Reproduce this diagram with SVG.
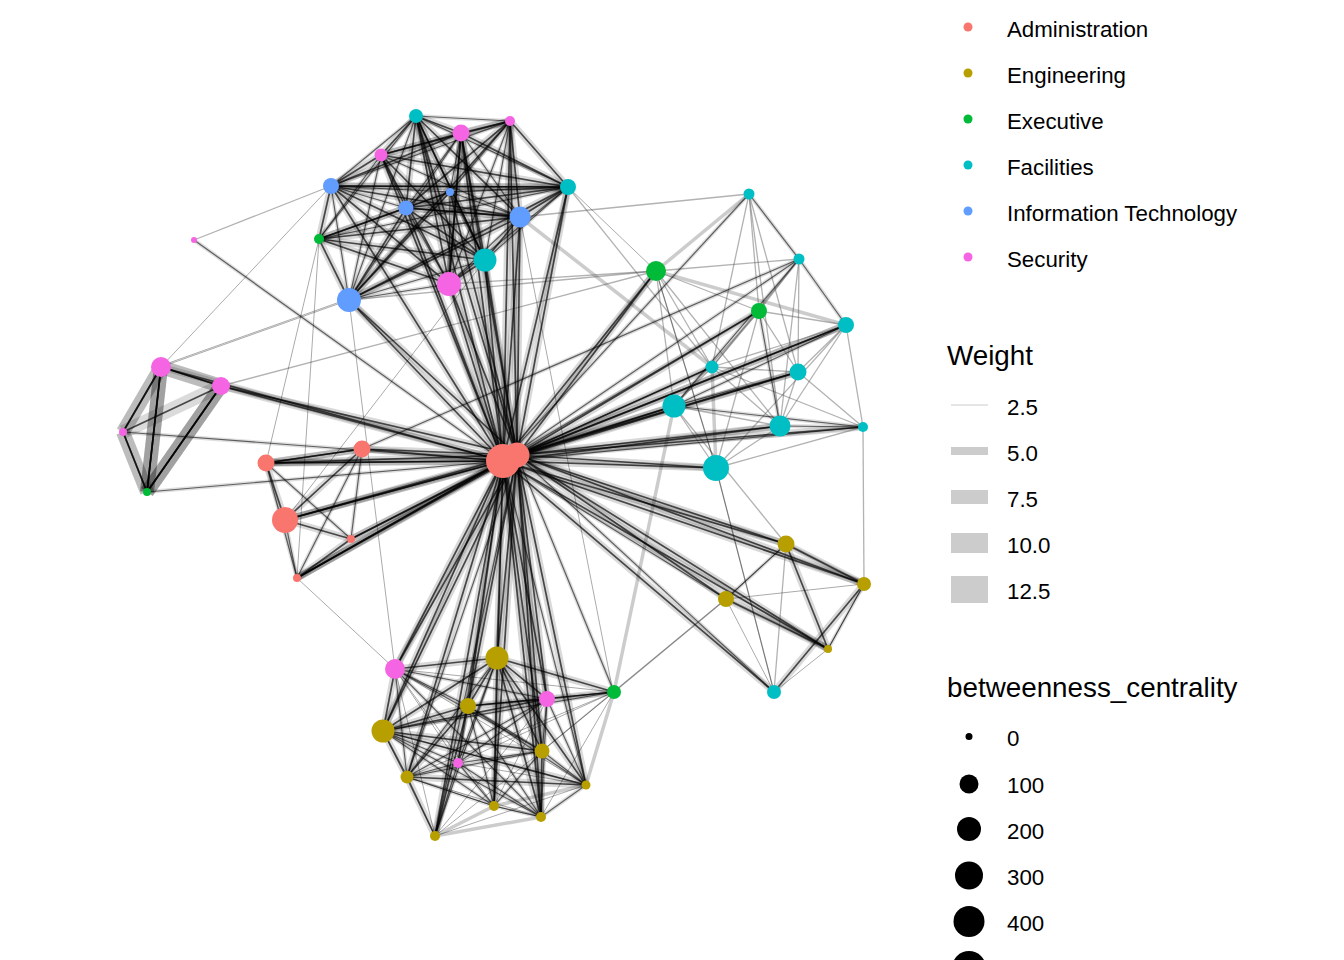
<svg xmlns="http://www.w3.org/2000/svg" xmlns:xlink="http://www.w3.org/1999/xlink" width="1344" height="960" viewBox="0 0 1344 960">
<style>
.hx{stroke:#000;stroke-opacity:.14;stroke-width:14;fill:none}
.hh{stroke:#000;stroke-opacity:.15;stroke-width:7;fill:none}
.hm{stroke:#000;stroke-opacity:.13;stroke-width:4;fill:none}
.ch{stroke:#000;stroke-opacity:.68;stroke-width:1.7;fill:none}
.cm{stroke:#000;stroke-opacity:.58;stroke-width:1.2;fill:none}
.cl{stroke:#000;stroke-opacity:.42;stroke-width:.8;fill:none}
.cg{stroke:#555;stroke-opacity:.45;stroke-width:1.3;fill:none}
.cw{stroke:#aaa;stroke-opacity:.6;stroke-width:3.5;fill:none}
.ad{fill:#F8766D}.en{fill:#B79F00}.ex{fill:#00BA38}.fa{fill:#00BFC4}.it{fill:#619CFF}.se{fill:#F564E3}
.lt{font-family:"Liberation Sans",Arial,sans-serif;font-size:22.3px;fill:#000}
.tt{font-family:"Liberation Sans",Arial,sans-serif;font-size:27.8px;fill:#000}
.key{fill:#cccccc}
</style>
<rect width="1344" height="960" fill="#fff"/>
<g id="connectors">
<g class="cw" id="EW">
<path d="M712 367L716 468"/><path d="M656 271L846 325"/><path d="M749 194L656 271"/><path d="M614 692L586 785"/><path d="M586 785L494 806"/><path d="M541 817L435 836"/><path d="M494 806L435 836"/><path d="M520 217L712 367"/><path d="M786 544L864 584"/><path d="M726 599L828 649"/><path d="M614 692L674 406"/>
</g>
<use xlink:href="#EX" class="hx"/>
<use xlink:href="#EH" class="hh"/>
<use xlink:href="#EM" class="hm"/>
<g class="cg" id="EG">
<path d="M221 386L656 271"/><path d="M349 300L656 271"/><path d="M449 284L656 271"/><path d="M520 217L749 194"/><path d="M568 187L712 367"/><path d="M614 692L726 599"/><path d="M716 468L774 692"/><path d="M674 406L786 544"/><path d="M863 427L864 584"/><path d="M786 544L774 692"/><path d="M542 751L726 599"/><path d="M194 240L331 186"/>
<path d="M749 194L759 311"/><path d="M749 194L712 367"/><path d="M749 194L798 372"/><path d="M749 194L780 426"/><path d="M799 259L656 271"/><path d="M799 259L759 311"/><path d="M799 259L712 367"/><path d="M799 259L780 426"/><path d="M799 259L798 372"/><path d="M656 271L712 367"/><path d="M656 271L674 406"/><path d="M656 271L780 426"/><path d="M656 271L716 468"/><path d="M759 311L712 367"/><path d="M759 311L798 372"/><path d="M759 311L674 406"/><path d="M759 311L716 468"/><path d="M759 311L846 325"/><path d="M846 325L712 367"/><path d="M846 325L798 372"/><path d="M846 325L780 426"/><path d="M846 325L863 427"/><path d="M846 325L716 468"/><path d="M712 367L798 372"/><path d="M712 367L780 426"/><path d="M712 367L674 406"/><path d="M798 372L780 426"/><path d="M798 372L863 427"/><path d="M674 406L780 426"/><path d="M780 426L716 468"/><path d="M716 468L863 427"/><path d="M674 406L716 468"/><path d="M656 271L759 311"/><path d="M712 367L863 427"/>
</g>
<g class="cl" id="EL">
<path d="M161 367L349 300"/><path d="M163 365L351 298"/><path d="M319 239L266 463"/><path d="M319 239L297 578"/><path d="M349 300L395 669"/><path d="M485 260L285 520"/><path d="M297 578L395 669"/><path d="M726 599L864 584"/><path d="M864 584L828 649"/><path d="M828 649L774 692"/><path d="M726 599L774 692"/><path d="M716 468L774 692"/><path d="M786 544L726 599"/><path d="M613 692L520 217"/>
<path d="M395 669L586 785"/><path d="M395 669L494 806"/><path d="M395 669L458 763"/><path d="M395 669L435 836"/><path d="M395 669L614 692"/><path d="M547 699L494 806"/><path d="M547 699L435 836"/><path d="M614 692L542 751"/><path d="M614 692L458 763"/><path d="M614 692L407 777"/><path d="M614 692L541 817"/><path d="M542 751L435 836"/><path d="M586 785L435 836"/><path d="M494 806L541 817"/><path d="M383 731L435 836"/><path d="M407 777L541 817"/><path d="M407 777L494 806"/><path d="M458 763L586 785"/><path d="M468 706L614 692"/><path d="M383 731L586 785"/>
<path d="M331 186L161 367"/><path d="M568 187L656 271"/><path d="M656 271L716 468"/>
</g>
<g class="ch"><g id="EX">
<path d="M161 367L221 386"/><path d="M161 367L221 386"/><path d="M161 367L123 432"/><path d="M161 367L147 492"/><path d="M161 367L147 492"/><path d="M161 367L147 492"/><path d="M221 386L123 432"/><path d="M221 386L147 492"/><path d="M221 386L147 492"/><path d="M221 386L147 492"/><path d="M123 432L147 492"/><path d="M123 432L147 492"/><path d="M161 367L123 432"/>
</g></g>
<g class="ch"><g id="EH">
<path d="M503 461L416 116"/><path d="M517 455L416 116"/><path d="M503 461L461 133"/><path d="M517 455L461 133"/><path d="M503 461L510 121"/><path d="M517 455L510 121"/><path d="M503 461L568 187"/><path d="M517 455L568 187"/><path d="M503 461L520 217"/><path d="M517 455L520 217"/><path d="M503 461L485 260"/><path d="M517 455L485 260"/><path d="M503 461L449 284"/><path d="M517 455L449 284"/><path d="M503 461L349 300"/><path d="M517 455L349 300"/><path d="M503 461L406 208"/><path d="M503 461L381 155"/><path d="M517 455L450 192"/><path d="M503 461L331 186"/>
<path d="M503 461L161 367"/><path d="M503 461L221 386"/><path d="M517 455L221 386"/><path d="M503 461L362 449"/><path d="M517 455L362 449"/><path d="M503 461L266 463"/><path d="M517 455L266 463"/><path d="M503 461L266 463"/><path d="M503 461L285 520"/><path d="M517 455L285 520"/><path d="M503 461L285 520"/><path d="M503 461L351 539"/><path d="M517 455L351 539"/><path d="M503 461L297 578"/><path d="M517 455L297 578"/><path d="M503 461L297 578"/>
<path d="M503 461L395 669"/><path d="M517 455L395 669"/><path d="M503 461L497 658"/><path d="M517 455L497 658"/><path d="M503 461L468 706"/><path d="M517 455L468 706"/><path d="M503 461L547 699"/><path d="M517 455L547 699"/><path d="M503 461L383 731"/><path d="M517 455L383 731"/><path d="M503 461L542 751"/><path d="M517 455L542 751"/><path d="M503 461L407 777"/><path d="M517 455L494 806"/><path d="M503 461L541 817"/><path d="M517 455L541 817"/><path d="M503 461L435 836"/><path d="M517 455L586 785"/>
<path d="M503 461L656 271"/><path d="M517 455L656 271"/><path d="M517 455L759 311"/><path d="M503 461L846 325"/><path d="M517 455L846 325"/><path d="M517 455L712 367"/><path d="M503 461L798 372"/><path d="M517 455L798 372"/><path d="M503 461L674 406"/><path d="M517 455L674 406"/><path d="M503 461L780 426"/><path d="M517 455L780 426"/><path d="M517 455L863 427"/><path d="M503 461L716 468"/><path d="M517 455L716 468"/>
<path d="M503 461L786 544"/><path d="M517 455L786 544"/><path d="M503 461L864 584"/><path d="M517 455L864 584"/><path d="M503 461L828 649"/><path d="M517 455L828 649"/><path d="M517 455L726 599"/><path d="M503 461L774 692"/>
<path d="M416 116L461 133"/><path d="M416 116L406 208"/><path d="M416 116L449 284"/><path d="M416 116L485 260"/><path d="M416 116L520 217"/><path d="M416 116L381 155"/><path d="M461 133L381 155"/><path d="M461 133L568 187"/><path d="M461 133L510 121"/><path d="M461 133L449 284"/><path d="M461 133L485 260"/><path d="M461 133L331 186"/><path d="M510 121L381 155"/><path d="M510 121L568 187"/><path d="M510 121L349 300"/><path d="M510 121L406 208"/><path d="M510 121L520 217"/><path d="M381 155L568 187"/><path d="M381 155L449 284"/><path d="M381 155L485 260"/><path d="M381 155L331 186"/><path d="M331 186L568 187"/><path d="M331 186L520 217"/><path d="M331 186L319 239"/><path d="M331 186L449 284"/><path d="M406 208L568 187"/><path d="M406 208L520 217"/><path d="M406 208L349 300"/><path d="M406 208L319 239"/><path d="M406 208L485 260"/><path d="M450 192L349 300"/><path d="M450 192L568 187"/><path d="M450 192L319 239"/><path d="M568 187L349 300"/><path d="M568 187L520 217"/><path d="M520 217L319 239"/><path d="M520 217L349 300"/><path d="M520 217L485 260"/><path d="M485 260L449 284"/><path d="M485 260L319 239"/><path d="M449 284L319 239"/><path d="M349 300L319 239"/><path d="M331 186L485 260"/><path d="M331 186L568 187"/><path d="M406 208L520 217"/><path d="M416 116L485 260"/><path d="M461 133L449 284"/>
<path d="M266 463L362 449"/><path d="M266 463L362 449"/><path d="M285 520L351 539"/><path d="M297 578L351 539"/><path d="M285 520L362 449"/><path d="M266 463L285 520"/>
<path d="M786 544L864 584"/><path d="M786 544L828 649"/><path d="M726 599L828 649"/><path d="M864 584L774 692"/>
<path d="M395 669L497 658"/><path d="M395 669L383 731"/><path d="M497 658L468 706"/><path d="M497 658L547 699"/><path d="M497 658L614 692"/><path d="M497 658L383 731"/><path d="M497 658L542 751"/><path d="M497 658L586 785"/><path d="M497 658L494 806"/><path d="M497 658L541 817"/><path d="M468 706L547 699"/><path d="M468 706L383 731"/><path d="M468 706L407 777"/><path d="M468 706L435 836"/><path d="M547 699L614 692"/><path d="M547 699L383 731"/><path d="M383 731L542 751"/><path d="M383 731L407 777"/><path d="M383 731L586 785"/><path d="M542 751L541 817"/><path d="M407 777L586 785"/><path d="M407 777L435 836"/>
</g></g>
<g class="cm"><g id="EM">
<path d="M416 116L510 121"/><path d="M416 116L331 186"/><path d="M416 116L568 187"/><path d="M416 116L349 300"/><path d="M461 133L406 208"/><path d="M461 133L520 217"/><path d="M461 133L450 192"/><path d="M461 133L349 300"/><path d="M510 121L331 186"/><path d="M510 121L449 284"/><path d="M510 121L485 260"/><path d="M510 121L450 192"/><path d="M381 155L406 208"/><path d="M381 155L520 217"/><path d="M381 155L349 300"/><path d="M381 155L319 239"/><path d="M331 186L406 208"/><path d="M331 186L349 300"/><path d="M331 186L450 192"/><path d="M406 208L450 192"/><path d="M406 208L449 284"/><path d="M450 192L485 260"/><path d="M450 192L520 217"/><path d="M450 192L449 284"/><path d="M568 187L485 260"/><path d="M568 187L449 284"/><path d="M568 187L319 239"/><path d="M520 217L449 284"/><path d="M485 260L349 300"/><path d="M449 284L349 300"/><path d="M319 239L416 116"/><path d="M194 240L503 461"/>
<path d="M123 432L503 461"/><path d="M147 492L503 461"/><path d="M362 449L351 539"/><path d="M362 449L297 578"/><path d="M266 463L351 539"/><path d="M285 520L297 578"/><path d="M266 463L297 578"/>
<path d="M503 461L458 763"/><path d="M517 455L407 777"/><path d="M503 461L494 806"/><path d="M517 455L435 836"/><path d="M517 455L614 692"/><path d="M503 461L586 785"/>
<path d="M503 461L799 259"/><path d="M503 461L759 311"/><path d="M503 461L712 367"/><path d="M503 461L863 427"/><path d="M503 461L726 599"/><path d="M517 455L774 692"/><path d="M503 461L749 194"/><path d="M362 449L799 259"/>
<path d="M726 599L786 544"/><path d="M864 584L828 649"/>
<path d="M749 194L799 259"/><path d="M799 259L846 325"/><path d="M799 259L674 406"/><path d="M759 311L780 426"/><path d="M846 325L674 406"/><path d="M798 372L674 406"/><path d="M674 406L863 427"/><path d="M780 426L863 427"/>
<path d="M395 669L468 706"/><path d="M395 669L547 699"/><path d="M395 669L542 751"/><path d="M395 669L407 777"/><path d="M395 669L541 817"/><path d="M497 658L458 763"/><path d="M497 658L407 777"/><path d="M497 658L435 836"/><path d="M468 706L614 692"/><path d="M468 706L542 751"/><path d="M468 706L586 785"/><path d="M468 706L494 806"/><path d="M468 706L541 817"/><path d="M468 706L458 763"/><path d="M547 699L542 751"/><path d="M547 699L458 763"/><path d="M547 699L407 777"/><path d="M547 699L586 785"/><path d="M547 699L541 817"/><path d="M614 692L383 731"/><path d="M383 731L458 763"/><path d="M383 731L494 806"/><path d="M383 731L541 817"/><path d="M542 751L458 763"/><path d="M542 751L407 777"/><path d="M542 751L586 785"/><path d="M542 751L494 806"/><path d="M458 763L407 777"/><path d="M458 763L494 806"/><path d="M458 763L541 817"/><path d="M458 763L435 836"/><path d="M407 777L494 806"/><path d="M494 806L541 817"/><path d="M586 785L541 817"/>
</g></g>
</g>
<g id="nodes">
<g id="n-t14"><circle class="se" cx="194" cy="240" r="3"/></g>
<g id="n-t1"><circle class="fa" cx="416" cy="116" r="7"/></g>
<g id="n-t2"><circle class="se" cx="510" cy="121" r="5"/></g>
<g id="n-t3"><circle class="se" cx="461" cy="133" r="8.5"/></g>
<g id="n-t4"><circle class="se" cx="381" cy="155" r="6.5"/></g>
<g id="n-t5"><circle class="it" cx="331" cy="186" r="8"/></g>
<g id="n-t6"><circle class="it" cx="450" cy="192" r="4"/></g>
<g id="n-t7"><circle class="fa" cx="568" cy="187" r="8"/></g>
<g id="n-t8"><circle class="it" cx="406" cy="208" r="7.5"/></g>
<g id="n-t9"><circle class="it" cx="520" cy="217" r="10.5"/></g>
<g id="n-t10"><circle class="ex" cx="319" cy="239" r="5"/></g>
<g id="n-t11"><circle class="fa" cx="485" cy="260" r="11.5"/></g>
<g id="n-t12"><circle class="se" cx="449" cy="284" r="12"/></g>
<g id="n-t13"><circle class="it" cx="349" cy="300" r="12"/></g>
<g id="n-l1"><circle class="se" cx="161" cy="367" r="10"/></g>
<g id="n-l2"><circle class="se" cx="221" cy="386" r="9"/></g>
<g id="n-l3"><circle class="se" cx="123" cy="432" r="4"/></g>
<g id="n-l4"><circle class="ex" cx="147" cy="492" r="4"/></g>
<g id="n-a1"><circle class="ad" cx="362" cy="449" r="8.5"/></g>
<g id="n-a2"><circle class="ad" cx="266" cy="463" r="8.5"/></g>
<g id="n-a3"><circle class="ad" cx="285" cy="520" r="13"/></g>
<g id="n-a4"><circle class="ad" cx="351" cy="539" r="4"/></g>
<g id="n-a5"><circle class="ad" cx="297" cy="578" r="4"/></g>
<g id="n-hub"><circle class="ad" cx="503" cy="461" r="17"/><circle class="ad" cx="517" cy="455" r="12.5"/></g>
<g id="n-b1"><circle class="se" cx="395" cy="669" r="10"/></g>
<g id="n-b2"><circle class="en" cx="497" cy="658" r="11.5"/></g>
<g id="n-b3"><circle class="en" cx="468" cy="706" r="8"/></g>
<g id="n-b4"><circle class="se" cx="547" cy="699" r="8"/></g>
<g id="n-b5"><circle class="ex" cx="614" cy="692" r="7"/></g>
<g id="n-b6"><circle class="en" cx="383" cy="731" r="11.5"/></g>
<g id="n-b7"><circle class="en" cx="542" cy="751" r="7.5"/></g>
<g id="n-b8"><circle class="se" cx="458" cy="763" r="5"/></g>
<g id="n-b9"><circle class="en" cx="407" cy="777" r="6.5"/></g>
<g id="n-b10"><circle class="en" cx="586" cy="785" r="4.5"/></g>
<g id="n-b11"><circle class="en" cx="494" cy="806" r="5"/></g>
<g id="n-b12"><circle class="en" cx="541" cy="817" r="5"/></g>
<g id="n-b13"><circle class="en" cx="435" cy="836" r="5"/></g>
<g id="n-r1"><circle class="fa" cx="749" cy="194" r="5.5"/></g>
<g id="n-r2"><circle class="fa" cx="799" cy="259" r="5.5"/></g>
<g id="n-r3"><circle class="ex" cx="656" cy="271" r="10"/></g>
<g id="n-r4"><circle class="ex" cx="759" cy="311" r="8"/></g>
<g id="n-r5"><circle class="fa" cx="846" cy="325" r="8"/></g>
<g id="n-r6"><circle class="fa" cx="712" cy="367" r="6.5"/></g>
<g id="n-r7"><circle class="fa" cx="798" cy="372" r="8.5"/></g>
<g id="n-r8"><circle class="fa" cx="674" cy="406" r="11.5"/></g>
<g id="n-r9"><circle class="fa" cx="780" cy="426" r="10.5"/></g>
<g id="n-r10"><circle class="fa" cx="863" cy="427" r="5"/></g>
<g id="n-r11"><circle class="fa" cx="716" cy="468" r="13"/></g>
<g id="n-e1"><circle class="en" cx="786" cy="544" r="8.5"/></g>
<g id="n-e2"><circle class="en" cx="864" cy="584" r="7"/></g>
<g id="n-e3"><circle class="en" cx="726" cy="599" r="8"/></g>
<g id="n-e4"><circle class="en" cx="828" cy="649" r="4"/></g>
<g id="n-e5"><circle class="fa" cx="774" cy="692" r="7"/></g>
</g>
<g id="legend-department">
<circle class="ad" cx="968" cy="27" r="4.5"/><text class="lt" x="1007" y="37">Administration</text>
<circle class="en" cx="968" cy="73" r="4.5"/><text class="lt" x="1007" y="83">Engineering</text>
<circle class="ex" cx="968" cy="119" r="4.5"/><text class="lt" x="1007" y="129">Executive</text>
<circle class="fa" cx="968" cy="165" r="4.5"/><text class="lt" x="1007" y="175">Facilities</text>
<circle class="it" cx="968" cy="211" r="4.5"/><text class="lt" x="1007" y="221">Information Technology</text>
<circle class="se" cx="968" cy="257" r="4.5"/><text class="lt" x="1007" y="267">Security</text>
</g>
<g id="legend-weight">
<text class="tt" x="947" y="365">Weight</text>
<rect class="key" x="951" y="404.5" width="37" height="1"/><text class="lt" x="1007" y="415">2.5</text>
<rect class="key" x="951" y="447" width="37" height="8"/><text class="lt" x="1007" y="461">5.0</text>
<rect class="key" x="951" y="490" width="37" height="14"/><text class="lt" x="1007" y="507">7.5</text>
<rect class="key" x="951" y="533" width="37" height="20"/><text class="lt" x="1007" y="553">10.0</text>
<rect class="key" x="951" y="576" width="37" height="27"/><text class="lt" x="1007" y="599">12.5</text>
</g>
<g id="legend-betweenness">
<text class="tt" x="947" y="697">betweenness_centrality</text>
<circle cx="969" cy="736.5" r="3.5" fill="#000"/><text class="lt" x="1007" y="746">0</text>
<circle cx="969" cy="784" r="9.5" fill="#000"/><text class="lt" x="1007" y="793">100</text>
<circle cx="969" cy="829" r="12" fill="#000"/><text class="lt" x="1007" y="839">200</text>
<circle cx="969" cy="875.5" r="14" fill="#000"/><text class="lt" x="1007" y="885">300</text>
<circle cx="969" cy="921.5" r="15.5" fill="#000"/><text class="lt" x="1007" y="931">400</text>
<circle cx="969" cy="968" r="17" fill="#000"/>
</g>
</svg>
